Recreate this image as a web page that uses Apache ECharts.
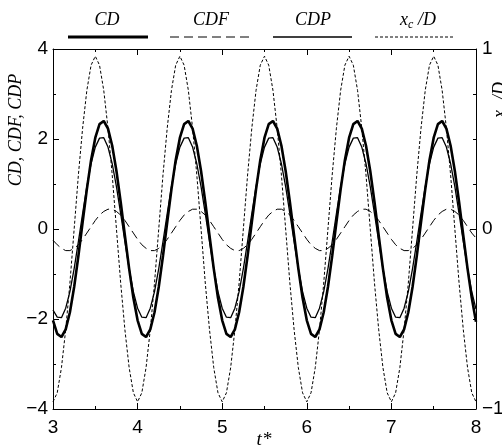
<!DOCTYPE html>
<html>
<head>
<meta charset="utf-8">
<script src="https://cdn.jsdelivr.net/npm/echarts@6/dist/echarts.min.js"></script>
<style>
html,body{margin:0;padding:0;background:#fff;}
#chart{width:502px;height:448px;}
</style>
</head>
<body>
<div id="chart"></div>
<script>
// time t* samples
const tStar = [
3.00,3.05,3.10,3.15,3.20,3.25,3.30,3.35,3.40,3.45,3.50,3.55,3.60,3.65,3.70,3.75,3.80,3.85,3.90,3.95,
4.00,4.05,4.10,4.15,4.20,4.25,4.30,4.35,4.40,4.45,4.50,4.55,4.60,4.65,4.70,4.75,4.80,4.85,4.90,4.95,
5.00,5.05,5.10,5.15,5.20,5.25,5.30,5.35,5.40,5.45,5.50,5.55,5.60,5.65,5.70,5.75,5.80,5.85,5.90,5.95,
6.00,6.05,6.10,6.15,6.20,6.25,6.30,6.35,6.40,6.45,6.50,6.55,6.60,6.65,6.70,6.75,6.80,6.85,6.90,6.95,
7.00,7.05,7.10,7.15,7.20,7.25,7.30,7.35,7.40,7.45,7.50,7.55,7.60,7.65,7.70,7.75,7.80,7.85,7.90,7.95,
8.00];
// CD (total drag coefficient)
const cdValues = [
-2.03,-2.33,-2.40,-2.23,-1.85,-1.29,-0.60,0.15,0.88,1.53,2.03,2.33,2.40,2.23,1.85,1.29,0.60,-0.15,-0.88,-1.53,
-2.03,-2.33,-2.40,-2.23,-1.85,-1.29,-0.60,0.15,0.88,1.53,2.03,2.33,2.40,2.23,1.85,1.29,0.60,-0.15,-0.88,-1.53,
-2.03,-2.33,-2.40,-2.23,-1.85,-1.29,-0.60,0.15,0.88,1.53,2.03,2.33,2.40,2.23,1.85,1.29,0.60,-0.15,-0.88,-1.53,
-2.03,-2.33,-2.40,-2.23,-1.85,-1.29,-0.60,0.15,0.88,1.53,2.03,2.33,2.40,2.23,1.85,1.29,0.60,-0.15,-0.88,-1.53,
-2.03,-2.33,-2.40,-2.23,-1.85,-1.29,-0.60,0.15,0.88,1.53,2.03,2.33,2.40,2.23,1.85,1.29,0.60,-0.15,-0.88,-1.53,
-2.06];
// CDF (friction drag)
const cdfValues = [
-0.25,-0.35,-0.43,-0.48,-0.48,-0.43,-0.35,-0.23,-0.09,0.05,0.19,0.31,0.39,0.44,0.44,0.39,0.31,0.19,0.05,-0.09,
-0.23,-0.35,-0.43,-0.48,-0.48,-0.43,-0.35,-0.23,-0.09,0.05,0.19,0.31,0.39,0.44,0.44,0.39,0.31,0.19,0.05,-0.09,
-0.23,-0.35,-0.43,-0.48,-0.48,-0.43,-0.35,-0.23,-0.09,0.05,0.19,0.31,0.39,0.44,0.44,0.39,0.31,0.19,0.05,-0.09,
-0.23,-0.35,-0.43,-0.48,-0.48,-0.43,-0.35,-0.23,-0.09,0.05,0.19,0.31,0.39,0.44,0.44,0.39,0.31,0.19,0.05,-0.09,
-0.23,-0.35,-0.43,-0.48,-0.48,-0.43,-0.35,-0.23,-0.09,0.05,0.19,0.31,0.39,0.44,0.44,0.39,0.31,0.19,0.05,-0.09,
-0.20];
// CDP (pressure drag)
const cdpValues = [
-1.80,-1.96,-1.97,-1.76,-1.39,-0.88,-0.28,0.34,0.94,1.45,1.82,2.02,2.03,1.82,1.45,0.94,0.34,-0.28,-0.88,-1.39,
-1.76,-1.96,-1.97,-1.76,-1.39,-0.88,-0.28,0.34,0.94,1.45,1.82,2.02,2.03,1.82,1.45,0.94,0.34,-0.28,-0.88,-1.39,
-1.76,-1.96,-1.97,-1.76,-1.39,-0.88,-0.28,0.34,0.94,1.45,1.82,2.02,2.03,1.82,1.45,0.94,0.34,-0.28,-0.88,-1.39,
-1.76,-1.96,-1.97,-1.76,-1.39,-0.88,-0.28,0.34,0.94,1.45,1.82,2.02,2.03,1.82,1.45,0.94,0.34,-0.28,-0.88,-1.39,
-1.76,-1.96,-1.97,-1.76,-1.39,-0.88,-0.28,0.34,0.94,1.45,1.82,2.02,2.03,1.82,1.45,0.94,0.34,-0.28,-0.88,-1.39,
-1.78];
// x_c / D (right axis)
const xcValues = [
-0.96,-0.91,-0.77,-0.56,-0.30,0.00,0.30,0.56,0.77,0.91,0.96,0.91,0.77,0.56,0.30,0.00,-0.30,-0.56,-0.77,-0.91,
-0.96,-0.91,-0.77,-0.56,-0.30,0.00,0.30,0.56,0.77,0.91,0.96,0.91,0.77,0.56,0.30,0.00,-0.30,-0.56,-0.77,-0.91,
-0.96,-0.91,-0.77,-0.56,-0.30,0.00,0.30,0.56,0.77,0.91,0.96,0.91,0.77,0.56,0.30,0.00,-0.30,-0.56,-0.77,-0.91,
-0.96,-0.91,-0.77,-0.56,-0.30,0.00,0.30,0.56,0.77,0.91,0.96,0.91,0.77,0.56,0.30,0.00,-0.30,-0.56,-0.77,-0.91,
-0.96,-0.91,-0.77,-0.56,-0.30,0.00,0.30,0.56,0.77,0.91,0.96,0.91,0.77,0.56,0.30,0.00,-0.30,-0.56,-0.77,-0.91,
-0.96];
const seriesNames = ['CD','CDF','CDP','xc/D'];

const pair = (vals) => tStar.map((t, i) => [t, vals[i]]);
const minusFmt = (v) => String(v).replace('-', '\u2212');
const serif = '"Liberation Serif","DejaVu Serif",serif';
const sans = '"Liberation Sans",Arial,sans-serif';

const tickStyle = { color: '#000', width: 1 };
function axis(extra) {
  return Object.assign({
    type: 'value',
    axisLine: { show: true, onZero: false, lineStyle: { color: '#000', width: 1 } },
    axisTick: { show: true, inside: true, length: 6, lineStyle: tickStyle },
    splitLine: { show: false },
    minorSplitLine: { show: false }
  }, extra);
}

const chart = echarts.init(document.getElementById('chart'), null, { renderer: 'canvas' });
chart.setOption({
  backgroundColor: '#fff',
  animation: false,
  grid: { left: 53, right: 26, top: 49, bottom: 39, containLabel: false, outerBoundsMode: 'none' },
  xAxis: [
    axis({ min: 3, max: 8, interval: 1, position: 'bottom',
      minorTick: { show: true, splitNumber: 2, length: 3, lineStyle: tickStyle },
      axisLabel: { color: '#000', fontSize: 19, fontFamily: sans, margin: 9 } }),
    axis({ min: 3, max: 8, interval: 1, position: 'top',
      minorTick: { show: true, splitNumber: 2, length: 3, lineStyle: tickStyle },
      axisLabel: { show: false } })
  ],
  yAxis: [
    axis({ min: -4, max: 4, interval: 2, position: 'left',
      minorTick: { show: true, splitNumber: 2, length: 3, lineStyle: tickStyle },
      axisLabel: { color: '#000', fontSize: 19, fontFamily: sans, margin: 5, formatter: minusFmt } }),
    axis({ min: -1, max: 1, interval: 1, position: 'right',
      minorTick: { show: true, splitNumber: 4, length: 3, lineStyle: tickStyle },
      axisLabel: { color: '#000', fontSize: 19, fontFamily: sans, margin: 6, formatter: minusFmt } })
  ],
  series: [
    { name: seriesNames[0], type: 'line', data: pair(cdValues), xAxisIndex: 0, yAxisIndex: 0,
      showSymbol: false, smooth: false, lineStyle: { color: '#000', width: 2.6 } },
    { name: seriesNames[1], type: 'line', data: pair(cdfValues), xAxisIndex: 0, yAxisIndex: 0,
      showSymbol: false, smooth: false, lineStyle: { color: '#000', width: 1, type: [9, 5] } },
    { name: seriesNames[2], type: 'line', data: pair(cdpValues), xAxisIndex: 0, yAxisIndex: 0,
      showSymbol: false, smooth: false, lineStyle: { color: '#000', width: 1.3 } },
    { name: seriesNames[3], type: 'line', data: pair(xcValues), xAxisIndex: 0, yAxisIndex: 1,
      showSymbol: false, smooth: false, lineStyle: { color: '#000', width: 1, type: [3, 2] } }
  ],
  graphic: [
    { type: 'text', x: 107, y: 20, style: { text: 'CD', font: 'italic 18px ' + serif, fill: '#000', textAlign: 'center', textVerticalAlign: 'middle' } },
    { type: 'text', x: 211, y: 20, style: { text: 'CDF', font: 'italic 18px ' + serif, fill: '#000', textAlign: 'center', textVerticalAlign: 'middle' } },
    { type: 'text', x: 313, y: 20, style: { text: 'CDP', font: 'italic 18px ' + serif, fill: '#000', textAlign: 'center', textVerticalAlign: 'middle' } },
    { type: 'text', x: 418, y: 20, style: {
        text: '{i|x}{s|c}{i| /D}', textAlign: 'center', textVerticalAlign: 'middle',
        rich: { i: { font: 'italic 18px ' + serif, color: '#000' },
                s: { font: 'italic 12px ' + serif, color: '#000', padding: [10, 0, 0, 0] } } } },
    { type: 'line', shape: { x1: 68, y1: 37, x2: 148, y2: 37 }, style: { stroke: '#000', lineWidth: 3 } },
    { type: 'line', shape: { x1: 170, y1: 37, x2: 249, y2: 37 }, style: { stroke: '#000', lineWidth: 1, lineDash: [9, 5] } },
    { type: 'line', shape: { x1: 273, y1: 37, x2: 352, y2: 37 }, style: { stroke: '#000', lineWidth: 1.5 } },
    { type: 'line', shape: { x1: 375, y1: 37, x2: 453, y2: 37 }, style: { stroke: '#000', lineWidth: 1, lineDash: [3, 2] } },
    { type: 'text', x: 16, y: 130, rotation: Math.PI / 2, style: { text: 'CD, CDF, CDP', font: 'italic 18px ' + serif, fill: '#000', textAlign: 'center', textVerticalAlign: 'middle' } },
    { type: 'text', x: 500, y: 100, rotation: Math.PI / 2, style: {
        text: '{i|x}{s|c}{i| /D}', textAlign: 'center', textVerticalAlign: 'middle',
        rich: { i: { font: 'italic 18px ' + serif, color: '#000' },
                s: { font: 'italic 12px ' + serif, color: '#000', padding: [10, 0, 0, 0] } } } },
    { type: 'text', x: 264, y: 440, style: { text: 't*', font: 'italic 19px ' + serif, fill: '#000', textAlign: 'center', textVerticalAlign: 'middle' } }
  ]
});
</script>
</body>
</html>
